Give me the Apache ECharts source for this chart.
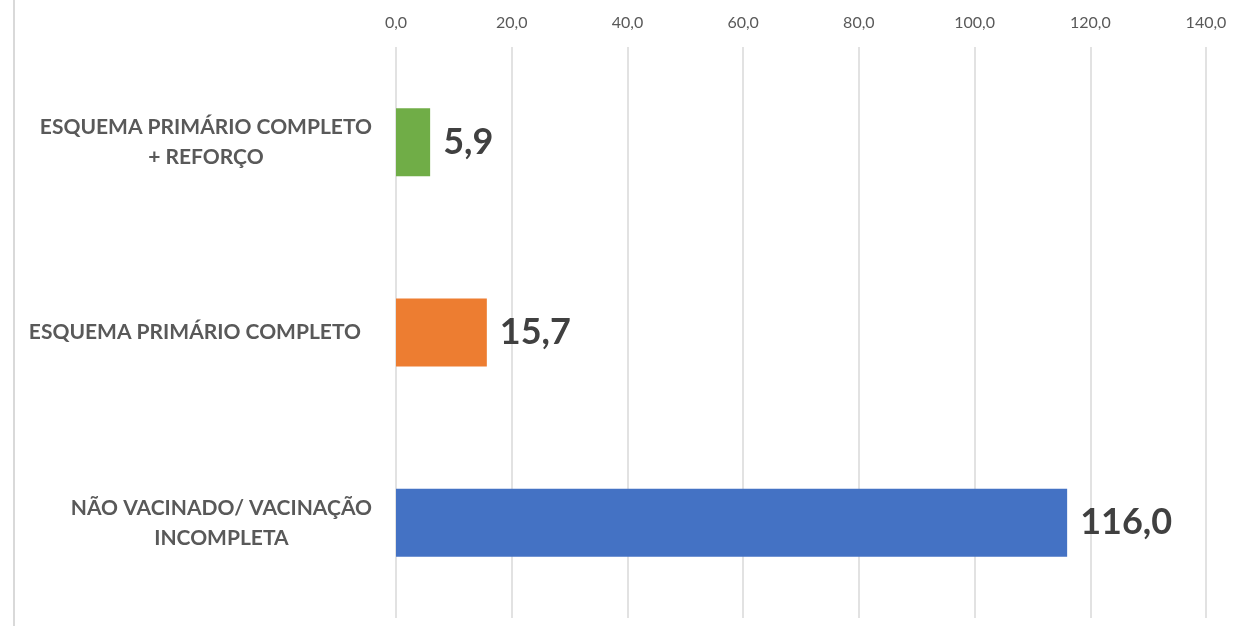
<!DOCTYPE html>
<html>
<head>
<meta charset="utf-8">
<script src="https://cdn.jsdelivr.net/npm/echarts@6/dist/echarts.min.js"></script>
<style>
  html, body { margin: 0; padding: 0; background: #fff; }
  #chart { width: 1235px; height: 626px; }
</style>
</head>
<body>
<div id="chart"></div>
<script>
// categorias (de cima para baixo)
const categories = [
  'ESQUEMA PRIMÁRIO COMPLETO\n+ REFORÇO',
  'ESQUEMA PRIMÁRIO COMPLETO',
  'NÃO VACINADO/ VACINAÇÃO\nINCOMPLETA'
];
const values = [5.9, 15.7, 116.0];
const barColors = ['#70AD47', '#ED7D31', '#4472C4'];
const axisMin = 0;
const axisMax = 140;
const axisStep = 20;

const fmt = v => v.toFixed(1).replace('.', ',');

const labelStyle = {
  align: 'center',
  color: '#595959',
  fontSize: 21,
  fontWeight: 'bold',
  lineHeight: 30,
  fontFamily: 'Lato, "Liberation Sans", sans-serif'
};

const chart = echarts.init(document.getElementById('chart'));
chart.setOption({
  animation: false,
  textStyle: { fontFamily: 'Lato, "Liberation Sans", sans-serif' },
  grid: { left: 396, right: 29, top: 47, bottom: 8, containLabel: false },
  graphic: [{
    type: 'line',
    shape: { x1: 14, y1: 0, x2: 14, y2: 626 },
    style: { stroke: '#d9d9d9', lineWidth: 2 }
  }],
  xAxis: {
    type: 'value',
    position: 'top',
    min: axisMin,
    max: axisMax,
    interval: axisStep,
    axisLine: { show: false },
    axisTick: { show: false },
    axisLabel: {
      color: '#595959',
      fontSize: 16,
      margin: 16,
      formatter: v => fmt(v)
    },
    splitLine: { lineStyle: { color: '#d9d9d9', width: 1.5 } }
  },
  yAxis: {
    type: 'category',
    inverse: true,
    data: categories,
    axisLine: { show: false },
    axisTick: { show: false },
    axisLabel: {
      margin: 24,
      formatter: v => {
        const lines = v.split('\n');
        if (lines.length === 1) return '{s|' + v + '}';
        return lines.map(s => '{c|' + s + '}').join('\n');
      },
      rich: {
        c: labelStyle,
        s: Object.assign({}, labelStyle, { padding: [0, 11, 0, 0] })
      }
    }
  },
  series: [{
    type: 'bar',
    barWidth: 68,
    data: values.map((v, i) => ({ value: v, itemStyle: { color: barColors[i] } })),
    label: {
      show: true,
      position: 'right',
      distance: 13,
      color: '#404040',
      fontSize: 36,
      fontWeight: 'bold',
      formatter: p => fmt(p.value)
    }
  }]
});
</script>
</body>
</html>
